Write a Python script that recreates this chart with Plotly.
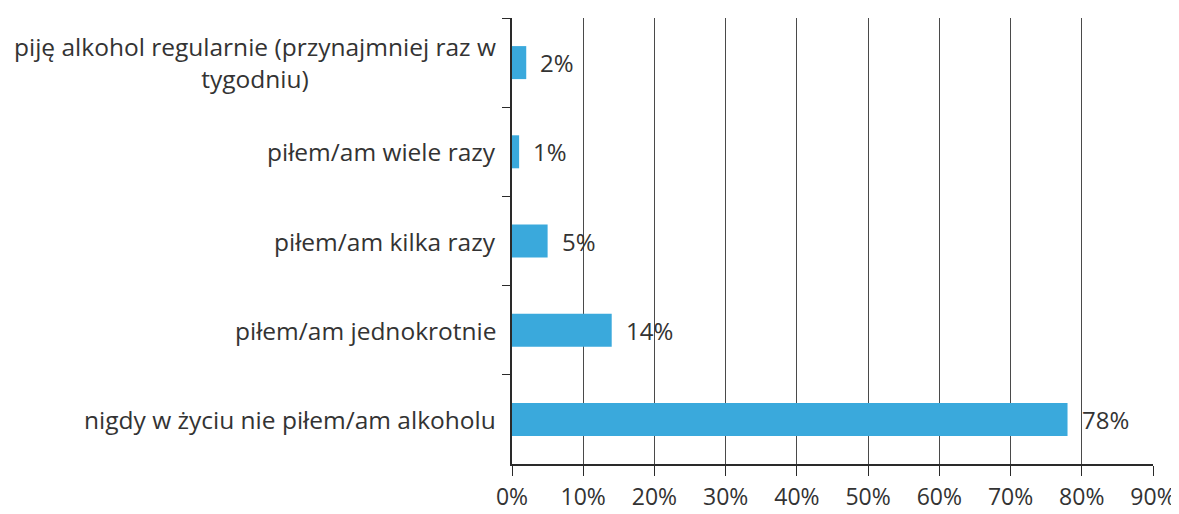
import plotly.graph_objects as go

categories = [
    "piję alkohol regularnie (przynajmniej raz w<br>tygodniu)",
    "piłem/am wiele razy",
    "piłem/am kilka razy",
    "piłem/am jednokrotnie",
    "nigdy w życiu nie piłem/am alkoholu",
]
values = [2, 1, 5, 14, 78]
labels = ["2%", "1%", "5%", "14%", "78%"]
x_ticks = [0, 10, 20, 30, 40, 50, 60, 70, 80, 90]

FONT = "Open Sans, Noto Sans, sans-serif"
TXT = "#333333"
FS = 24

fig = go.Figure(go.Bar(
    y=categories, x=values, orientation="h",
    marker=dict(color="#3aa9dc", line=dict(width=0)),
    width=0.37, hoverinfo="skip",
))

for c in categories:
    fig.add_annotation(
        x=0, xref="paper", y=c, yref="y", xanchor="right", xshift=-14,
        text=c, showarrow=False, align="center",
        font=dict(family=FONT, size=24.5, color=TXT),
    )

for c, v, t in zip(categories, values, labels):
    fig.add_annotation(
        x=v, xref="x", y=c, yref="y", xanchor="left", xshift=12,
        text=t, showarrow=False,
        font=dict(family=FONT, size=FS, color=TXT),
    )

fig.update_layout(
    width=1179, height=514,
    margin=dict(l=504, r=34, t=10, b=58),
    paper_bgcolor="white", plot_bgcolor="white",
    showlegend=False,
    font=dict(family=FONT, size=FS, color=TXT),
    xaxis=dict(
        range=[0, 90], tickvals=x_ticks, ticktext=[f"{v}%" for v in x_ticks],
        showgrid=True, gridcolor="#4a4a4a", gridwidth=1,
        showline=True, linecolor="#2a2a2a", linewidth=1.5,
        ticks="outside", ticklen=10, tickcolor="#2a2a2a",
        ticklabelstandoff=2,
        tickfont=dict(family=FONT, size=23, color=TXT),
        zeroline=False, fixedrange=True, automargin=False,
    ),
    yaxis=dict(
        autorange="reversed", type="category",
        showticklabels=False, showgrid=False,
        showline=True, linecolor="#2a2a2a", linewidth=1.5,
        ticks="outside", ticklen=8, tickcolor="#2a2a2a", tickson="boundaries",
        zeroline=False,
    ),
)

fig.write_html("out.html")
